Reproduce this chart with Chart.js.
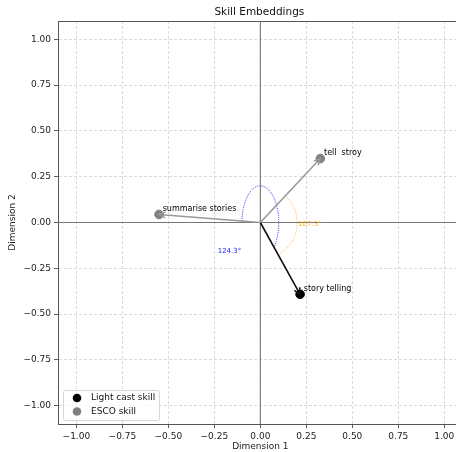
<!DOCTYPE html>
<html>
<head>
<meta charset="utf-8">
<script src="https://cdn.jsdelivr.net/npm/chart.js@4/dist/chart.umd.min.js"></script>
<style>
  html, body { margin: 0; padding: 0; background: #fff; overflow: hidden; }
  #wrap { width: 468px; height: 452px; }
</style>
</head>
<body>
<div id="wrap"><canvas id="chart" width="468" height="452"></canvas></div>
<script>
// skill vectors
const lightcastNames = ['story telling'];
const lightcastX = [0.216];
const lightcastY = [-0.392];
const escoNames = ['tell  stroy', 'summarise stories'];
const escoX = [0.326, -0.551];
const escoY = [0.349, 0.044];

// angle annotations (text and where it sits, in data units)
const angleTexts = ['124.3°', '107.3°'];
const angleTextX = [-0.168, 0.205];
const angleTextY = [-0.158, -0.01];

const tickValues = [-1.0, -0.75, -0.5, -0.25, 0.0, 0.25, 0.5, 0.75, 1.0];
const axisMin = -1.1;
const axisMax = 1.1;

const FONT = 'DejaVu Sans';
const GRAY = '#808080';

function fmtTick(v) {
  return v.toFixed(2).replace('-', '\u2212');
}

function vectorDataset(x, y, color) {
  return {
    type: 'line',
    data: [{ x: 0, y: 0 }, { x: x, y: y }],
    borderColor: color,
    borderWidth: 1.6,
    pointRadius: 0,
    isVector: true,
    order: 2
  };
}

const datasets = [
  { type: 'line', data: [{ x: axisMin, y: 0 }, { x: axisMax, y: 0 }], borderColor: '#777', borderWidth: 1.1, pointRadius: 0, order: 5 },
  { type: 'line', data: [{ x: 0, y: axisMin }, { x: 0, y: axisMax }], borderColor: '#777', borderWidth: 1.1, pointRadius: 0, order: 5 }
];
escoX.forEach((x, i) => datasets.push(vectorDataset(x, escoY[i], '#999')));
lightcastX.forEach((x, i) => datasets.push(vectorDataset(x, lightcastY[i], '#111')));
datasets.push({
  type: 'scatter',
  label: 'Light cast skill',
  data: lightcastX.map((x, i) => ({ x: x, y: lightcastY[i] })),
  backgroundColor: '#000', borderColor: '#000', pointRadius: 4.3, order: 1,
  names: lightcastNames
});
datasets.push({
  type: 'scatter',
  label: 'ESCO skill',
  data: escoX.map((x, i) => ({ x: x, y: escoY[i] })),
  backgroundColor: GRAY, borderColor: GRAY, pointRadius: 4.3, order: 1,
  names: escoNames
});

// angle between two vectors drawn as an arc around the origin
function drawArc(ctx, xs, ys, fromX, fromY, toX, toY, rx, ry, color) {
  const cx = xs.getPixelForValue(0), cy = ys.getPixelForValue(0);
  const prx = Math.abs(xs.getPixelForValue(rx) - cx);
  const pry = Math.abs(ys.getPixelForValue(ry) - cy);
  const a1 = Math.atan2(-(fromY), fromX);
  const a2 = Math.atan2(-(toY), toX);
  const t = a => Math.atan2(Math.sin(a) / pry, Math.cos(a) / prx);
  ctx.save();
  ctx.strokeStyle = color;
  ctx.lineWidth = 1;
  ctx.setLineDash([1, 1.2]);
  ctx.beginPath();
  ctx.ellipse(cx, cy, prx, pry, 0, t(a1), t(a2), false);
  ctx.stroke();
  ctx.restore();
}

const extras = {
  id: 'extras',
  beforeDatasetsDraw(chart) {
    const { ctx, chartArea: a } = chart;
    const xs = chart.scales.x, ys = chart.scales.y;
    // top spine
    ctx.save();
    ctx.strokeStyle = '#555';
    ctx.lineWidth = 1;
    ctx.beginPath();
    ctx.moveTo(a.left, a.top + 0.5);
    ctx.lineTo(a.right, a.top + 0.5);
    ctx.stroke();
    ctx.restore();
    // angle arcs
    drawArc(ctx, xs, ys, escoX[1], escoY[1], lightcastX[0], lightcastY[0], 0.1, 0.2, 'rgba(20,20,255,0.9)');
    drawArc(ctx, xs, ys, escoX[0], escoY[0], lightcastX[0], lightcastY[0], 0.2, 0.2, 'rgba(255,165,0,0.75)');
  },
  afterDatasetsDraw(chart) {
    const { ctx } = chart;
    const xs = chart.scales.x, ys = chart.scales.y;
    // arrow heads
    chart.data.datasets.forEach(ds => {
      if (!ds.isVector) return;
      const p0 = ds.data[0], p1 = ds.data[1];
      const x0 = xs.getPixelForValue(p0.x), y0 = ys.getPixelForValue(p0.y);
      const x1 = xs.getPixelForValue(p1.x), y1 = ys.getPixelForValue(p1.y);
      const ang = Math.atan2(y1 - y0, x1 - x0);
      const len = 7, spread = 0.45;
      ctx.save();
      ctx.strokeStyle = ds.borderColor;
      ctx.lineWidth = 1.5;
      ctx.beginPath();
      ctx.moveTo(x1 - len * Math.cos(ang - spread), y1 - len * Math.sin(ang - spread));
      ctx.lineTo(x1, y1);
      ctx.lineTo(x1 - len * Math.cos(ang + spread), y1 - len * Math.sin(ang + spread));
      ctx.stroke();
      ctx.restore();
    });
    // point names
    ctx.save();
    ctx.fillStyle = '#000';
    ctx.font = '8px "' + FONT + '"';
    ctx.textAlign = 'left';
    ctx.textBaseline = 'alphabetic';
    chart.data.datasets.forEach(ds => {
      if (!ds.names) return;
      ds.data.forEach((p, i) => {
        ctx.fillText(ds.names[i], xs.getPixelForValue(p.x + 0.02), ys.getPixelForValue(p.y + 0.02));
      });
    });
    // angle texts
    ctx.font = '7px "' + FONT + '"';
    ctx.textBaseline = 'middle';
    ctx.fillStyle = '#1818ff';
    ctx.textAlign = 'center';
    ctx.fillText(angleTexts[0], xs.getPixelForValue(angleTextX[0]), ys.getPixelForValue(angleTextY[0]));
    ctx.fillStyle = 'rgba(255,165,0,0.9)';
    ctx.textAlign = 'left';
    ctx.fillText(angleTexts[1], xs.getPixelForValue(angleTextX[1]), ys.getPixelForValue(angleTextY[1]));
    ctx.restore();
  },
  afterDraw(chart) {
    const { ctx, chartArea: a } = chart;
    // title
    ctx.save();
    ctx.fillStyle = '#111';
    ctx.font = '10.5px "' + FONT + '"';
    ctx.textAlign = 'center';
    ctx.textBaseline = 'middle';
    ctx.fillText('Skill Embeddings', (a.left + a.right) / 2 - 1, 12);
    // legend box
    const bx = 63, by = 390, bw = 96, bh = 30;
    ctx.fillStyle = 'rgba(255,255,255,0.8)';
    ctx.strokeStyle = '#d6d6d6';
    ctx.lineWidth = 1;
    ctx.beginPath();
    ctx.roundRect(bx + 0.5, by + 0.5, bw, bh, 2);
    ctx.fill();
    ctx.stroke();
    const items = chart.data.datasets.filter(ds => ds.names);
    ctx.font = '9px "' + FONT + '"';
    ctx.textAlign = 'left';
    items.forEach((ds, i) => {
      const yy = by + 8 + i * 13.5;
      ctx.fillStyle = ds.backgroundColor;
      ctx.beginPath();
      ctx.arc(bx + 14, yy, 4.3, 0, Math.PI * 2);
      ctx.fill();
      ctx.fillStyle = '#111';
      ctx.fillText(ds.label, bx + 28, yy);
    });
    ctx.restore();
  }
};

new Chart(document.getElementById('chart'), {
  type: 'scatter',
  data: { datasets: datasets },
  options: {
    responsive: false,
    animation: false,
    layout: { padding: { top: 21, right: 2, left: 0, bottom: 0 } },
    plugins: { legend: { display: false }, title: { display: false }, tooltip: { enabled: false } },
    scales: {
      x: {
        type: 'linear', min: axisMin, max: axisMax,
        afterBuildTicks: s => { s.ticks = tickValues.map(v => ({ value: v })); },
        afterFit: s => { s.height = 28; },
        ticks: { callback: v => fmtTick(v), color: '#222', font: { family: FONT, size: 9 }, padding: 3, maxRotation: 0, autoSkip: false },
        grid: { color: '#d0d0d0', lineWidth: 0.8, tickLength: 4, tickColor: '#333', tickBorderDash: [] },
        border: { display: true, color: '#555', width: 1, dash: [3, 2] },
        title: { display: true, text: 'Dimension 1', color: '#222', font: { family: FONT, size: 9 }, padding: { top: 0, bottom: 0 } }
      },
      y: {
        type: 'linear', min: axisMin, max: axisMax,
        afterBuildTicks: s => { s.ticks = tickValues.map(v => ({ value: v })); },
        afterFit: s => { s.width = 58; },
        ticks: { callback: v => fmtTick(v), color: '#222', font: { family: FONT, size: 9 }, padding: 3, autoSkip: false },
        grid: { color: '#d0d0d0', lineWidth: 0.8, tickLength: 4, tickColor: '#333', tickBorderDash: [] },
        border: { display: true, color: '#555', width: 1, dash: [3, 2] },
        title: { display: true, text: 'Dimension 2', color: '#222', font: { family: FONT, size: 9 }, padding: { top: 7, bottom: 0 } }
      }
    }
  },
  plugins: [extras]
});
</script>
</body>
</html>
